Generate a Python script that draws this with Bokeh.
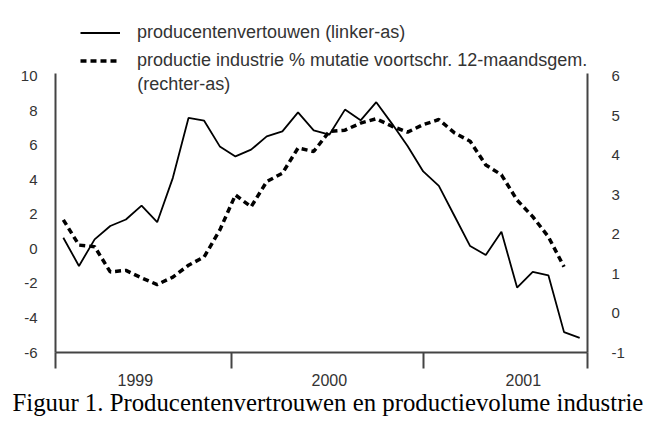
import numpy as np
from bokeh.plotting import figure
from bokeh.models import (Range1d, LinearAxis, FixedTicker, Legend, LegendItem,
                          Title, CustomJSTickFormatter, ColumnDataSource)
from bokeh.embed import file_html
from bokeh.resources import INLINE
from bokeh.core.properties import value

# ---- data (monthly, feb 1999 .. nov 2001) ----
months = ["feb 99", "mrt 99", "apr 99", "mei 99", "jun 99", "jul 99", "aug 99", "sep 99",
          "okt 99", "nov 99", "dec 99", "jan 00", "feb 00", "mrt 00", "apr 00", "mei 00",
          "jun 00", "jul 00", "aug 00", "sep 00", "okt 00", "nov 00", "dec 00", "jan 01",
          "feb 01", "mrt 01", "apr 01", "mei 01", "jun 01", "jul 01", "aug 01", "sep 01",
          "okt 01", "nov 01"]
producentenvertrouwen = [0.64, -0.99, 0.55, 1.32, 1.70, 2.50, 1.54, 4.11, 7.58, 7.42,
                         5.93, 5.35, 5.74, 6.51, 6.80, 7.90, 6.86, 6.61, 8.06, 7.44,
                         8.49, 7.25, 5.95, 4.48, 3.65, 1.90, 0.16, -0.36, 0.99, -2.24,
                         -1.33, -1.53, -4.82, -5.15]
productie_industrie = [2.36, 1.72, 1.68, 1.04, 1.08, 0.89, 0.72, 0.91, 1.21, 1.42,
                       2.10, 2.99, 2.69, 3.33, 3.54, 4.18, 4.09, 4.60, 4.63, 4.81,
                       4.92, 4.73, 4.58, 4.77, 4.90, 4.56, 4.35, 3.75, 3.50, 2.86,
                       2.44, 1.93, 1.17]

year_labels = ["1999", "2000", "2001"]
year_label_pos = [5.1, 17.5, 29.9]
year_bounds = [0, 11.25, 23.5, 34]
left_ticks = [-6, -4, -2, 0, 2, 4, 6, 8, 10]
right_ticks = [-1, 0, 1, 2, 3, 4, 5, 6]
left_axis_span = (-6, 10.15)
right_axis_span = (-1, 6 + 0.15 * 7 / 16)

legend_labels = ["producentenvertouwen (linker-as)",
                 "productie industrie % mutatie voortschr. 12-maandsgem."]
legend_extra = "(rechter-as)"
caption = "Figuur 1. Producentenvertrouwen en productievolume industrie"

FONT = "Liberation Sans"
TXT = "#333333"
AX = "#444444"

# layout (pixels)
W, H = 645, 424
FL, FR, FT, FB = 55, 587, 15, 352   # frame edges; axes drawn from y=73 down
AXIS_TOP = 73

px_per_left = (FB - AXIS_TOP) / (left_axis_span[1] - left_axis_span[0])
px_per_right = (FB - AXIS_TOP) / (right_axis_span[1] - right_axis_span[0])
left_top = left_axis_span[0] + (FB - FT) / px_per_left
right_top = right_axis_span[0] + (FB - FT) / px_per_right

x_all = np.arange(len(months)) + 0.5
src1 = ColumnDataSource(dict(x=x_all, y=producentenvertrouwen))
src2 = ColumnDataSource(dict(x=x_all[:len(productie_industrie)], y=productie_industrie))

p = figure(width=W, height=H, output_backend="svg", toolbar_location=None,
           x_range=Range1d(0, len(months)), y_range=Range1d(left_axis_span[0], left_top),
           x_axis_type=None, y_axis_type=None,
           min_border_left=FL, min_border_right=W - FR, min_border_top=FT,
           min_border_bottom=H - FB)
p.extra_y_ranges = {"right": Range1d(right_axis_span[0], right_top)}
p.grid.visible = False
p.outline_line_color = None
p.background_fill_color = "white"
p.border_fill_color = "white"

r1 = p.line("x", "y", source=src1, line_color="black", line_width=1.8)
r2 = p.line("x", "y", source=src2, y_range_name="right", line_color="black",
            line_width=3.5, line_dash="6 4")


def style_axis(ax):
    ax.axis_line_color = AX
    ax.axis_line_width = 2
    ax.major_tick_line_color = AX
    ax.major_tick_line_width = 2
    ax.minor_tick_line_color = None
    ax.major_label_text_font = FONT
    ax.major_label_text_font_size = "15px"
    ax.major_label_text_color = TXT


la = LinearAxis(ticker=FixedTicker(ticks=left_ticks), bounds=left_axis_span,
                formatter=CustomJSTickFormatter(code="return tick.toString()"))
style_axis(la)
la.major_tick_out = 0
la.major_tick_in = 0
la.major_label_standoff = 18
p.add_layout(la, "left")

ra = LinearAxis(y_range_name="right", ticker=FixedTicker(ticks=right_ticks),
                bounds=right_axis_span,
                formatter=CustomJSTickFormatter(code="return tick.toString()"))
style_axis(ra)
ra.major_tick_out = 0
ra.major_tick_in = 0
ra.major_label_standoff = 24
p.add_layout(ra, "right")

ba = LinearAxis(ticker=FixedTicker(ticks=year_bounds),
                formatter=CustomJSTickFormatter(code="return ''"))
style_axis(ba)
ba.major_tick_out = 16
ba.major_tick_in = 0
ba.major_label_standoff = 0
ba.major_label_text_font_size = "1px"
p.add_layout(ba, "below")

ya = LinearAxis(ticker=FixedTicker(ticks=year_label_pos),
                major_label_overrides={pos: lab for pos, lab in zip(year_label_pos, year_labels)})
style_axis(ya)
ya.axis_line_color = None
ya.major_tick_line_color = None
ya.major_tick_out = 0
ya.major_tick_in = 0
ya.major_label_standoff = 5
ya.major_label_text_font_size = "16px"
p.add_layout(ya, "below")

legend = Legend(items=[LegendItem(label=legend_labels[0], renderers=[r1]),
                       LegendItem(label=legend_labels[1], renderers=[r2])],
                location=(25, 281))
legend.border_line_color = None
legend.background_fill_alpha = 0
legend.padding = 0
legend.margin = 0
legend.spacing = 7
legend.glyph_width = 40
legend.glyph_height = 21
legend.label_height = 21
legend.label_standoff = 17
legend.label_text_font = FONT
legend.label_text_font_size = "18px"
legend.label_text_color = TXT
p.add_layout(legend)

p.text(x=[5.22], y=[9.55], text=[legend_extra], text_font=value(FONT),
       text_font_size="18px", text_color=TXT, text_baseline="middle", text_align="left")

cap = Title(text=caption, align="left", vertical_align="top", text_font="Liberation Serif",
            text_font_size="24.8px", text_font_style="normal", text_color="black",
            offset=-43, standoff=0)
p.add_layout(cap, "below")

open("out.html", "w").write(file_html(p, INLINE))
